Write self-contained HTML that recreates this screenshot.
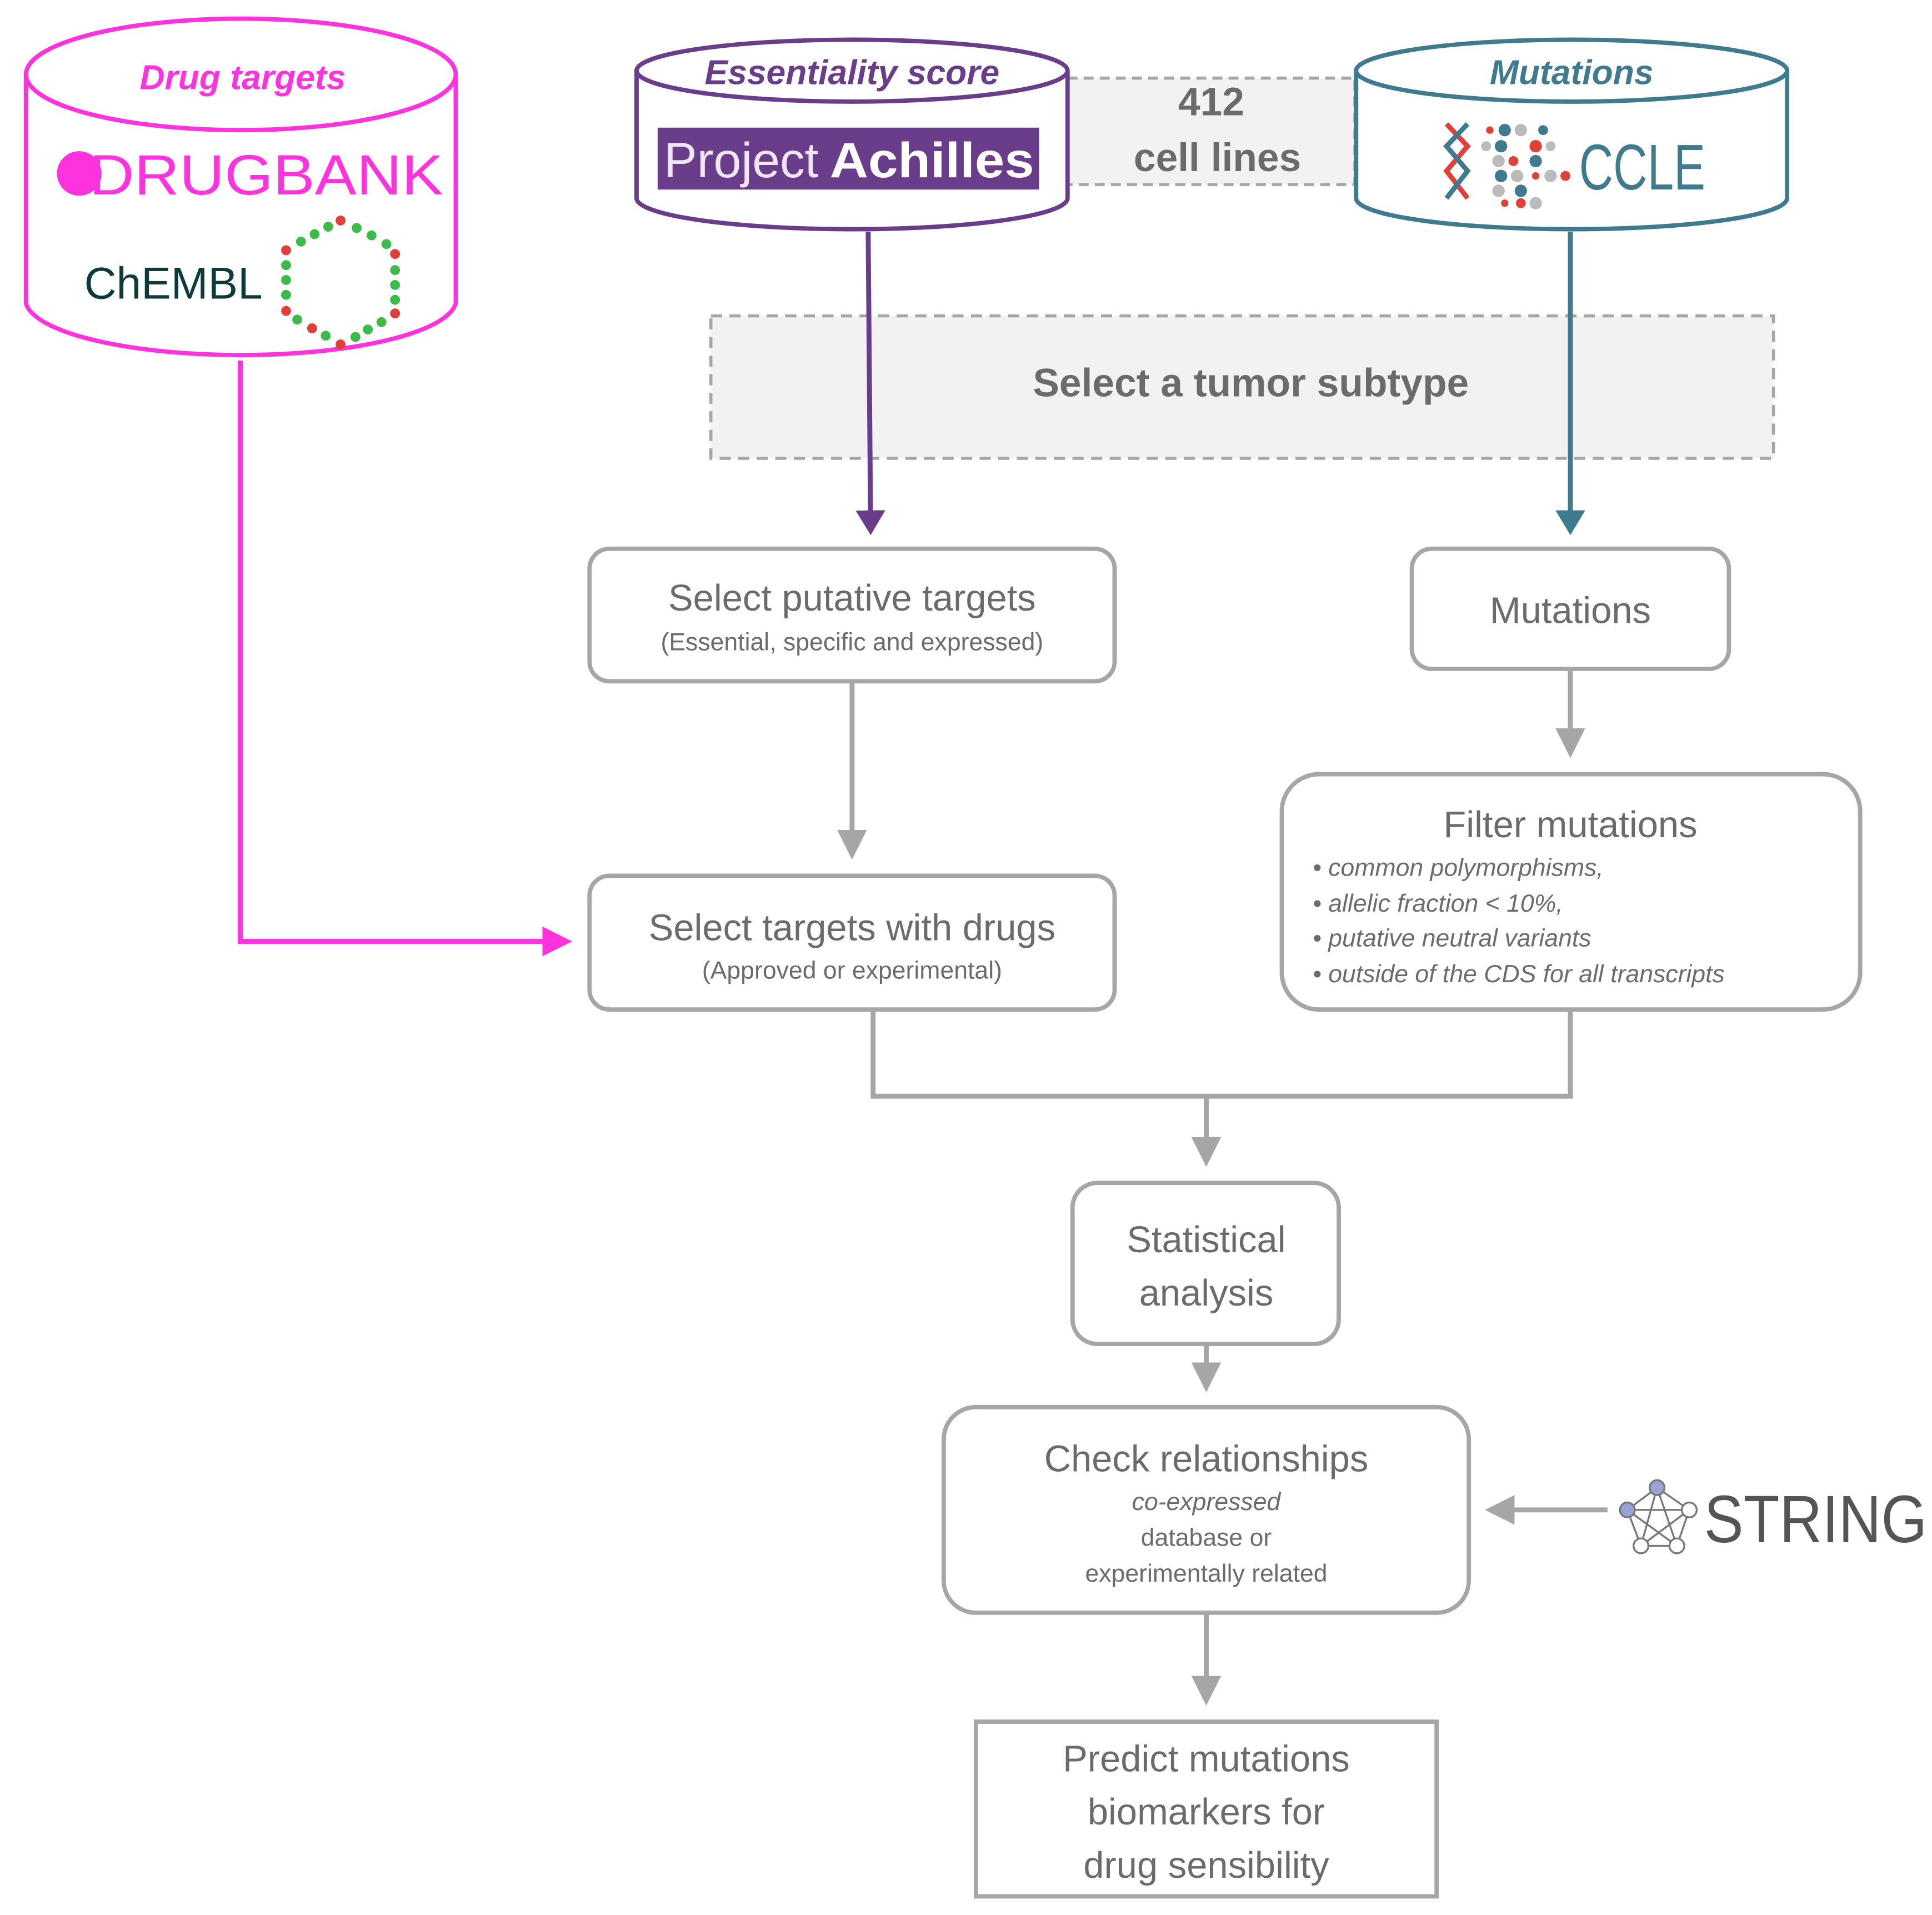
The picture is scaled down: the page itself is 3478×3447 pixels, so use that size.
<!DOCTYPE html>
<html><head><meta charset="utf-8"><style>
html,body{margin:0;padding:0;background:#fff;}
svg{display:block;}
text{font-family:"Liberation Sans",sans-serif;}
</style></head><body>
<svg width="3478" height="3447" viewBox="0 0 1560 1546" xmlns="http://www.w3.org/2000/svg">
<defs>
<marker id="ag" markerWidth="6" markerHeight="6" refX="5" refY="3" orient="auto" markerUnits="strokeWidth"><path d="M0,0 L6,3 L0,6 z" fill="#a6a6a6"/></marker>
<marker id="ap" markerWidth="5" markerHeight="6" refX="4" refY="3" orient="auto" markerUnits="strokeWidth"><path d="M0,0 L5,3 L0,6 z" fill="#6a3d8a"/></marker>
<marker id="at" markerWidth="5" markerHeight="6" refX="4" refY="3" orient="auto" markerUnits="strokeWidth"><path d="M0,0 L5,3 L0,6 z" fill="#3f7a8f"/></marker>
<marker id="am" markerWidth="6" markerHeight="6" refX="5" refY="3" orient="auto" markerUnits="strokeWidth"><path d="M0,0 L6,3 L0,6 z" fill="#ff33dd"/></marker>
</defs>

<!-- dashed 412 cell lines -->
<rect x="862" y="63" width="232" height="86" fill="#f2f2f2" stroke="#a6a6a6" stroke-width="2.5" stroke-dasharray="8,5"/>
<text x="978" y="93" font-size="32" font-weight="bold" fill="#6b6b6b" text-anchor="middle">412</text>
<text x="983" y="138" font-size="32" font-weight="bold" fill="#6b6b6b" text-anchor="middle">cell lines</text>

<!-- tumor subtype -->
<rect x="574" y="255" width="858" height="115" fill="#f2f2f2" stroke="#a6a6a6" stroke-width="2.5" stroke-dasharray="9,6"/>
<text x="1010" y="320" font-size="32" font-weight="bold" fill="#6b6b6b" text-anchor="middle">Select a tumor subtype</text>

<!-- Drug targets cylinder -->
<path d="M21,60 L21,245 A174,45 0 0 0 368,245 L368,60" fill="#fff" stroke="#ff33dd" stroke-width="3.5"/>
<ellipse cx="194.5" cy="60" rx="173.5" ry="45" fill="#fff" stroke="#ff33dd" stroke-width="3.5"/>
<text x="196" y="72" font-size="28" font-weight="bold" font-style="italic" fill="#ff33dd" text-anchor="middle">Drug targets</text>
<ellipse cx="64" cy="140" rx="18" ry="18" fill="#ff33dd"/>
<text x="72" y="157" font-size="46" fill="#ff33dd" textLength="286" lengthAdjust="spacingAndGlyphs">DRUGBANK</text>
<text x="68" y="241" font-size="36" fill="#0d3a3a">ChEMBL</text>
<g fill="#3dbb4a">
<circle cx="275" cy="178" r="4" fill="#e0403a"/><circle cx="288" cy="184" r="4"/><circle cx="300" cy="190" r="4"/><circle cx="312" cy="197" r="4"/><circle cx="319" cy="205" r="4" fill="#e0403a"/>
<circle cx="319" cy="218" r="4"/><circle cx="319" cy="230" r="4"/><circle cx="319" cy="242" r="4"/><circle cx="319" cy="253" r="4" fill="#e0403a"/>
<circle cx="308" cy="260" r="4"/><circle cx="297" cy="266" r="4"/><circle cx="287" cy="272" r="4"/><circle cx="275" cy="278" r="4" fill="#e0403a"/>
<circle cx="263" cy="271" r="4"/><circle cx="252" cy="265" r="4" fill="#e0403a"/><circle cx="240" cy="258" r="4"/><circle cx="231" cy="251" r="4" fill="#e0403a"/>
<circle cx="231" cy="238" r="4"/><circle cx="231" cy="226" r="4"/><circle cx="231" cy="214" r="4"/><circle cx="231" cy="202" r="4" fill="#e0403a"/>
<circle cx="243" cy="195" r="4"/><circle cx="254" cy="189" r="4"/><circle cx="265" cy="183" r="4"/>
</g>

<!-- Essentiality cylinder -->
<path d="M514,57 L514,160 A174,25 0 0 0 862,160 L862,57" fill="#fff" stroke="#6a3d8a" stroke-width="3.5"/>
<ellipse cx="688" cy="57" rx="174" ry="25" fill="#fff" stroke="#6a3d8a" stroke-width="3.5"/>
<text x="688" y="68" font-size="28" font-weight="bold" font-style="italic" fill="#6a3d8a" text-anchor="middle">Essentiality score</text>
<rect x="531" y="103" width="308" height="50" fill="#6a3d8a"/>
<text x="536" y="143" font-size="40" fill="#f0e6f5" font-weight="normal" textLength="125" lengthAdjust="spacingAndGlyphs">Project</text>
<text x="670" y="143" font-size="40" fill="#fff" font-weight="bold" textLength="165" lengthAdjust="spacingAndGlyphs">Achilles</text>

<!-- Mutations cylinder -->
<path d="M1095,57 L1095,160 A174,25 0 0 0 1443,160 L1443,57" fill="#fff" stroke="#3f7a8f" stroke-width="3.5"/>
<ellipse cx="1269" cy="57" rx="174" ry="25" fill="#fff" stroke="#3f7a8f" stroke-width="3.5"/>
<text x="1269" y="68" font-size="28" font-weight="bold" font-style="italic" fill="#3f7a8f" text-anchor="middle">Mutations</text>
<g>
<path d="M1168,100 L1185,118 L1168,138 L1185,160" stroke="#e0403a" stroke-width="4" fill="none"/>
<path d="M1185,100 L1168,118 L1185,138 L1168,160" stroke="#3f7a8f" stroke-width="4" fill="none"/>
<circle cx="1203" cy="105" r="3" fill="#e0403a"/><circle cx="1215" cy="105" r="5" fill="#3f7a8f"/><circle cx="1228" cy="105" r="5" fill="#bbb"/><circle cx="1246" cy="105" r="4" fill="#3f7a8f"/>
<circle cx="1200" cy="118" r="4" fill="#bbb"/><circle cx="1212" cy="118" r="5" fill="#3f7a8f"/><circle cx="1240" cy="118" r="5" fill="#e0403a"/><circle cx="1252" cy="118" r="4" fill="#bbb"/>
<circle cx="1210" cy="130" r="5" fill="#bbb"/><circle cx="1222" cy="130" r="4" fill="#e0403a"/><circle cx="1240" cy="130" r="5" fill="#3f7a8f"/>
<circle cx="1212" cy="142" r="5" fill="#3f7a8f"/><circle cx="1225" cy="142" r="5" fill="#bbb"/><circle cx="1240" cy="142" r="3" fill="#e0403a"/><circle cx="1252" cy="142" r="5" fill="#bbb"/><circle cx="1264" cy="142" r="4" fill="#e0403a"/>
<circle cx="1210" cy="154" r="5" fill="#bbb"/><circle cx="1228" cy="154" r="5" fill="#3f7a8f"/>
<circle cx="1215" cy="164" r="3" fill="#e0403a"/><circle cx="1228" cy="164" r="4" fill="#e0403a"/><circle cx="1240" cy="164" r="5" fill="#bbb"/>
</g>
<text x="1275" y="153" font-size="52" fill="#3f7a8f" textLength="102" lengthAdjust="spacingAndGlyphs">CCLE</text>

<!-- colored connectors -->
<line x1="701" y1="187" x2="703" y2="428" stroke="#6a3d8a" stroke-width="4" marker-end="url(#ap)"/>
<line x1="1268" y1="187" x2="1268" y2="428" stroke="#3f7a8f" stroke-width="4" marker-end="url(#at)"/>
<polyline points="194,291 194,760 458,760" fill="none" stroke="#ff33dd" stroke-width="4" marker-end="url(#am)"/>

<!-- boxes -->
<g fill="#fff" stroke="#a6a6a6" stroke-width="3.5">
<rect x="476" y="443" width="424" height="107" rx="16"/>
<rect x="1140" y="443" width="256" height="97" rx="16"/>
<rect x="1035" y="625" width="467" height="190" rx="30"/>
<rect x="476" y="707" width="424" height="108" rx="16"/>
<rect x="866" y="955" width="215" height="130" rx="20"/>
<rect x="762" y="1136" width="424" height="166" rx="26"/>
<rect x="788" y="1390" width="372" height="141"/>
</g>

<g fill="#6b6b6b" text-anchor="middle">
<text x="688" y="493" font-size="30">Select putative targets</text>
<text x="688" y="525" font-size="20">(Essential, specific and expressed)</text>
<text x="1268" y="503" font-size="30">Mutations</text>
<text x="1268" y="676" font-size="30">Filter mutations</text>
<text x="688" y="759" font-size="30">Select targets with drugs</text>
<text x="688" y="790" font-size="20">(Approved or experimental)</text>
<text x="974" y="1011" font-size="30">Statistical</text>
<text x="974" y="1054" font-size="30">analysis</text>
<text x="974" y="1188" font-size="30">Check relationships</text>
<text x="974" y="1219" font-size="20" font-style="italic">co-expressed</text>
<text x="974" y="1248" font-size="20">database or</text>
<text x="974" y="1277" font-size="20">experimentally related</text>
<text x="974" y="1430" font-size="30">Predict mutations</text>
<text x="974" y="1473" font-size="30">biomarkers for</text>
<text x="974" y="1516" font-size="30">drug sensibility</text>
</g>
<g fill="#6b6b6b" font-size="20" font-style="italic">
<text x="1060" y="707">• common polymorphisms,</text>
<text x="1060" y="736">• allelic fraction &lt; 10%,</text>
<text x="1060" y="764">• putative neutral variants</text>
<text x="1060" y="793">• outside of the CDS for all transcripts</text>
</g>

<!-- gray connectors -->
<g stroke="#a6a6a6" stroke-width="4" fill="none">
<line x1="688" y1="551" x2="688" y2="690" marker-end="url(#ag)"/>
<line x1="1268" y1="541" x2="1268" y2="608" marker-end="url(#ag)"/>
<polyline points="705,816 705,885 1268,885 1268,816"/>
<line x1="974" y1="885" x2="974" y2="938" marker-end="url(#ag)"/>
<line x1="974" y1="1086" x2="974" y2="1120" marker-end="url(#ag)"/>
<line x1="974" y1="1303" x2="974" y2="1373" marker-end="url(#ag)"/>
<line x1="1298" y1="1219" x2="1203" y2="1219" marker-end="url(#ag)"/>
</g>

<!-- STRING logo -->
<g stroke="#777" stroke-width="1.5" fill="#fff">
<line x1="1338" y1="1201" x2="1314" y2="1219"/><line x1="1338" y1="1201" x2="1364" y2="1219"/>
<line x1="1314" y1="1219" x2="1325" y2="1248"/><line x1="1364" y1="1219" x2="1354" y2="1248"/>
<line x1="1325" y1="1248" x2="1354" y2="1248"/><line x1="1338" y1="1201" x2="1325" y2="1248"/>
<line x1="1338" y1="1201" x2="1354" y2="1248"/><line x1="1314" y1="1219" x2="1364" y2="1219"/>
<line x1="1314" y1="1219" x2="1354" y2="1248"/><line x1="1364" y1="1219" x2="1325" y2="1248"/>
<circle cx="1338" cy="1201" r="6" fill="#9aa3d6"/><circle cx="1314" cy="1219" r="6" fill="#9aa3d6"/>
<circle cx="1364" cy="1219" r="6"/><circle cx="1325" cy="1248" r="6"/><circle cx="1354" cy="1248" r="6"/>
</g>
<text x="1376" y="1245" font-size="54" fill="#555" textLength="180" lengthAdjust="spacingAndGlyphs">STRING</text>
</svg>
</body></html>
